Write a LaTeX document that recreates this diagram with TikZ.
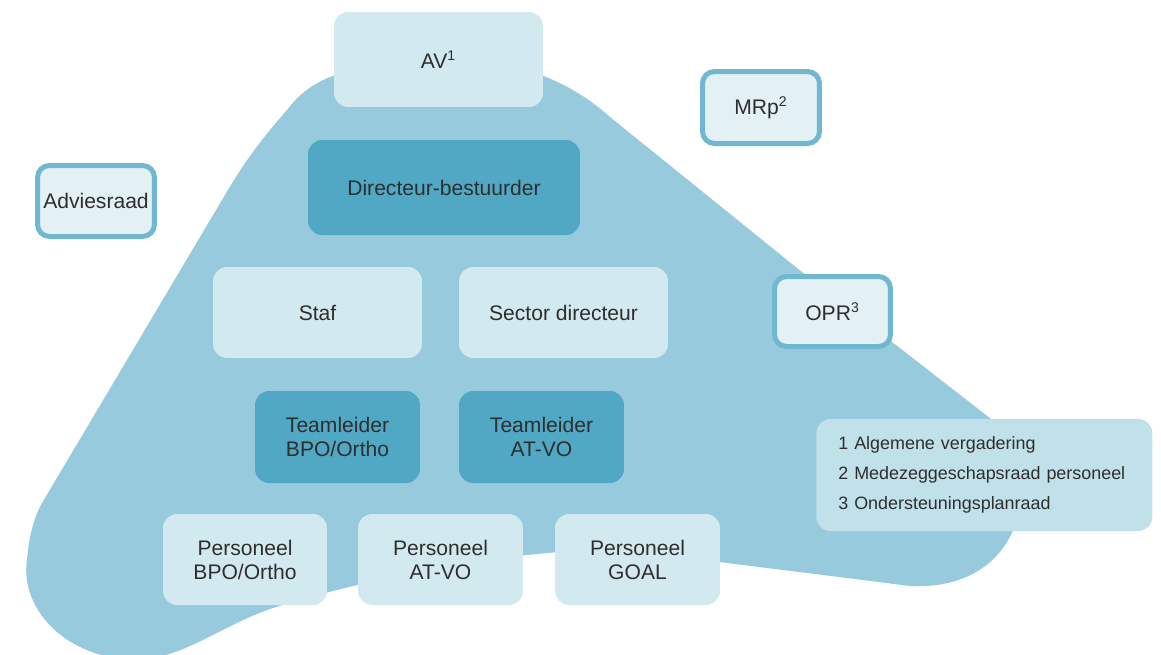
\documentclass[tikz,border=0pt]{standalone}
\usepackage{fontspec}
\setmainfont{Liberation Sans}
\usetikzlibrary{positioning}

\definecolor{vlak}{HTML}{98CADD}
\definecolor{lichtblauw}{HTML}{D3E9F0}
\definecolor{donkerblauw}{HTML}{50A8C5}
\definecolor{randblauw}{HTML}{6FB8D0}
\definecolor{randvul}{HTML}{E3F1F5}
\definecolor{legendavul}{HTML}{C0E0EA}
\definecolor{tekst}{HTML}{2E2E2E}

\tikzset{
    lichtbox/.style={rectangle, rounded corners=0.28cm, fill=lichtblauw, text=tekst,
        inner sep=0pt, align=center, font=\fontsize{12}{13.7}\selectfont},
    donkerbox/.style={lichtbox, fill=donkerblauw},
    randbox/.style={lichtbox, fill=randvul, draw=randblauw, line width=0.1cm, rounded corners=0.24cm},
    legendabox/.style={rectangle, rounded corners=0.28cm, fill=legendavul, text=tekst,
        inner xsep=0.44cm, inner ysep=0pt, align=left, text width=5.84cm, minimum height=2.24cm,
        font=\fontsize{10.2}{17}\selectfont}
}

\begin{document}
\begin{tikzpicture}[x=0.02cm, y=-0.02cm]
    \useasboundingbox (0,0) rectangle (1161,654);

    % achtergrondvlak
    \fill[vlak] (287,110) .. controls (310,80) and (340,64) .. (440,60)
        .. controls (500,58) and (560,72) .. (610,117)
        -- (797,268) -- (995,422)
        .. controls (1030,452) and (1028,512) .. (1005,545)
        .. controls (985,575) and (950,588) .. (910,586)
        -- (847,578) -- (719,562) -- (560,552)
        .. controls (450,560) and (330,590) .. (276,607)
        .. controls (220,625) and (180,662) .. (130,660)
        .. controls (60,655) and (20,605) .. (27,560)
        .. controls (29,535) and (34,518) .. (42,503)
        -- (222,200)
        .. controls (245,160) and (265,135) .. (287,110) -- cycle;

    % hoofdstructuur
    \node[lichtbox, minimum width=4.18cm, minimum height=1.9cm] (av) at (438.5,59.5) {AV\textsuperscript{1}};
    \node[donkerbox, minimum width=5.44cm, minimum height=1.9cm] (dir) at (444,187.5) {Directeur-bestuurder};
    \node[lichtbox, minimum width=4.18cm, minimum height=1.82cm] (staf) at (317.5,312.5) {Staf};
    \node[lichtbox, minimum width=4.18cm, minimum height=1.82cm] (sector) at (563.5,312.5) {Sector directeur};
    \node[donkerbox, minimum width=3.3cm, minimum height=1.84cm] (tlbpo) at (337.5,437) {Teamleider\\BPO/Ortho};
    \node[donkerbox, minimum width=3.3cm, minimum height=1.84cm] (tlat) at (541.5,437) {Teamleider\\AT-VO};
    \node[lichtbox, minimum width=3.28cm, minimum height=1.82cm] (pbpo) at (245,559.5) {Personeel\\BPO/Ortho};
    \node[lichtbox, minimum width=3.3cm, minimum height=1.82cm] (pat) at (440.5,559.5) {Personeel\\AT-VO};
    \node[lichtbox, minimum width=3.3cm, minimum height=1.82cm] (pgoal) at (637.5,559.5) {Personeel\\GOAL};

    % raden
    \node[randbox, minimum width=2.34cm, minimum height=1.42cm] (advies) at (96,201) {Adviesraad};
    \node[randbox, minimum width=2.34cm, minimum height=1.44cm] (mrp) at (761,107.5) {MRp\textsuperscript{2}};
    \node[randbox, minimum width=2.32cm, minimum height=1.4cm] (opr) at (832.5,311.5) {OPR\textsuperscript{3}};

    % legenda
    \node[legendabox, anchor=west] (legenda) at (816,475) {1 Algemene vergadering\\2 Medezeggeschapsraad personeel\\3 Ondersteuningsplanraad};
\end{tikzpicture}
\end{document}
